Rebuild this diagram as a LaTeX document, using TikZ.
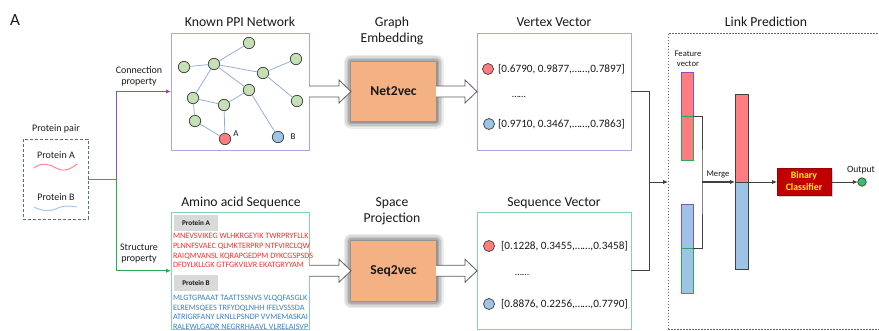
\documentclass[tikz,border=0pt]{standalone}
\usepackage{fontspec}
\setmainfont{Carlito}
\usetikzlibrary{arrows.meta,calc,shadows}

\definecolor{boxpurple}{RGB}{185,160,220}
\definecolor{boxgreen}{RGB}{130,215,165}
\definecolor{armpurple}{RGB}{140,80,190}
\definecolor{armgreen}{RGB}{40,170,80}
\definecolor{netgreen}{RGB}{197,224,180}
\definecolor{nodeedge}{RGB}{60,60,60}
\definecolor{edgeblue}{RGB}{143,170,220}
\definecolor{pinkred}{RGB}{255,124,128}
\definecolor{lightblue}{RGB}{157,195,230}
\definecolor{peach}{RGB}{244,177,131}
\definecolor{darkred}{RGB}{192,0,0}
\definecolor{seqred}{RGB}{255,45,45}
\definecolor{seqblue}{RGB}{50,130,205}
\definecolor{labelgray}{RGB}{217,217,217}
\definecolor{linegray}{RGB}{64,64,64}
\definecolor{pairblue}{RGB}{85,105,145}
\definecolor{outgreen}{RGB}{60,190,110}
\definecolor{txt}{RGB}{25,25,25}

\newcommand{\fatarrow}[2]{%
  \draw[hollow] ($(#1.east)+(0,-5.5)$) -- ($(#2.west)+(-12,-5.5)$)
    -- ($(#2.west)+(-12,-11.5)$) -- (#2.west) -- ($(#2.west)+(-12,11.5)$)
    -- ($(#2.west)+(-12,5.5)$) -- ($(#1.east)+(0,5.5)$);}

\begin{document}
\begin{tikzpicture}[x=1pt,y=-1pt,
  every node/.style={inner sep=0pt, outer sep=0pt, text=txt},
  ttl/.style={font=\fontsize{13.7}{16}\selectfont, anchor=base},
  lbl/.style={font=\fontsize{10}{12}\selectfont, anchor=base},
  tiny/.style={font=\fontsize{8.6}{10}\selectfont, anchor=base},
  pbox/.style={draw=boxpurple, line width=0.9pt, rectangle},
  gbox/.style={draw=boxgreen, line width=0.9pt, rectangle},
  net/.style={circle, draw=nodeedge, line width=0.7pt, fill=netgreen, minimum size=11.4pt},
  netedge/.style={draw=edgeblue, line width=0.75pt},
  dot/.style={circle, draw=nodeedge, line width=0.7pt, minimum size=11pt},
  conn/.style={draw=linegray, line width=0.9pt},
  tip/.style={-{Latex[length=5pt,width=4.5pt]}},
  hollow/.style={draw=linegray!85, fill=white, line width=0.8pt, line join=miter},
  glowbox/.style={rectangle, fill=peach,
    preaction={draw=black, opacity=0.07, line width=15pt, line join=round},
    preaction={draw=black, opacity=0.08, line width=12pt, line join=round},
    preaction={draw=black, opacity=0.10, line width=9pt, line join=round},
    preaction={draw=black, opacity=0.12, line width=6pt, line join=round},
    preaction={draw=black, opacity=0.14, line width=3pt, line join=round},
    font=\fontsize{13.6}{16}\bfseries\selectfont},
  seqtxt/.style={font=\fontsize{8.2}{9}\selectfont, anchor=base west},
  tag/.style={rectangle, fill=labelgray, minimum width=44pt, minimum height=16pt,
    font=\fontsize{7.2}{9}\bfseries\selectfont},
  vectxt/.style={font=\fontsize{11.2}{13}\selectfont, anchor=west},
  bar/.style={rectangle, minimum width=12pt, line width=0.9pt},
  mbar/.style={rectangle, minimum width=13pt, draw=linegray, line width=0.9pt}
]
\useasboundingbox (0,0) rectangle (879,330);

% panel letter
\node[font=\fontsize{17}{20}\selectfont, anchor=base west] (panel) at (10,25) {A};

% ---------- protein pair ----------
\node[lbl] (pairlbl) at (56,131) {Protein pair};
\node[rectangle, draw=pairblue, dash pattern=on 3pt off 2pt, line width=0.9pt,
      minimum width=65pt, minimum height=80pt] (pp) at (55.5,179) {};
\node[lbl] (pa) at (56,158) {Protein A};
\node[lbl] (pb) at (56,200) {Protein B};
\draw[pinkred, line width=0.9pt] (34,168) .. controls (42,162) and (50,164) .. (56,168)
  .. controls (62,172) and (70,170) .. (77,164);
\draw[lightblue, line width=0.9pt] (34,207) .. controls (42,211) and (50,212) .. (58,208)
  .. controls (64,205) and (70,206) .. (77,207);

% ---------- known PPI network ----------
\node[ttl] (ppittl) at (240,26) {Known PPI Network};
\node[pbox, minimum width=138pt, minimum height=117pt] (ppi) at (240,91.5) {};
\node[net] (n1) at (249,43) {};
\node[net] (n2) at (184,67) {};
\node[net] (n3) at (214,64) {};
\node[net] (n4) at (296,59) {};
\node[net] (n5) at (263,73) {};
\node[net] (n6) at (249,90) {};
\node[net] (n7) at (193,98) {};
\node[net] (n8) at (224,105) {};
\node[net] (n9) at (297,101) {};
\node[net] (n10) at (195,121) {};
\node[net, fill=pinkred] (na) at (225,139) {};
\node[net, fill=lightblue] (nb) at (278,137) {};
\foreach \u/\v in {n3/n1, n2/n3, n3/n5, n5/n4, n5/n9, n3/n6, n3/n7, n7/n8,
                   n8/n6, n6/nb, n8/na, n7/n10, n10/na}
  \draw[netedge] (\u) -- (\v);
\node[font=\fontsize{9}{10}\selectfont] (la) at (236,134) {A};
\node[font=\fontsize{9}{10}\selectfont] (lb) at (293,137) {B};

% ---------- amino acid sequence ----------
\node[ttl] (seqttl) at (241,206) {Amino acid Sequence};
\node[gbox, minimum width=138pt, minimum height=117.5pt] (seqbox) at (240,270.75) {};
\node[tag] (taga) at (196,223) {Protein A};
\node[tag] (tagb) at (196,283) {Protein B};
\foreach \t [count=\i] in {MNEVSVIKEG WLHKRGEYIK TWRPRYFLLK,
                           PLNNFSVAEC QLMKTERPRP NTFVIRCLQW,
                           RAIQMVANSL KQRAPGEDPM DYKCGSPSDS,
                           DFDYLKLLGK GTFGKVILVR EKATGRYYAM}
  \node[seqtxt, text=seqred] (sa\i) at (173,{238.7+9.7*(\i-1)}) {\t};
\foreach \t [count=\i] in {MLGTGPAAAT TAATTSSNVS VLQQFASGLK,
                           ELREMSQEES TRFYDQLNHH IFELVSSSDA,
                           ATRIGRFANY LRNLLPSNDP VVMEMASKAI,
                           RALEWLGADR NEGRRHAAVL VLRELAISVP}
  \node[seqtxt, text=seqblue] (sb\i) at (173,{300.4+9.6*(\i-1)}) {\t};

% ---------- inputs into the two branches ----------
\node[lbl] (cp1) at (139,73) {Connection};
\node[lbl] (cp2) at (139,84) {property};
\node[lbl] (sp1) at (139,250) {Structure};
\node[lbl] (sp2) at (139,261) {property};
\coordinate (split) at (116,179);
\draw[armgreen, line width=1pt] (pp.east) -- (split);
\draw[armgreen, line width=1pt, tip] (split) |- (seqbox.west);
\draw[armpurple, line width=1pt, tip] (split) |- (ppi.west);

% ---------- embedding / projection ----------
\node[ttl] (ge1) at (392,26) {Graph};
\node[ttl] (ge2) at (392,42.5) {Embedding};
\node[glowbox, minimum width=85pt, minimum height=59pt] (net2vec) at (393.5,91.5) {Net2vec};
\node[ttl] (sp3) at (392,206) {Space};
\node[ttl] (sp4) at (392,222.5) {Projection};
\node[glowbox, minimum width=85pt, minimum height=59.5pt] (seq2vec) at (393.5,270.75) {Seq2vec};

% ---------- vectors ----------
\node[ttl] (vvttl) at (554,26) {Vertex Vector};
\node[pbox, minimum width=154pt, minimum height=117pt] (vvec) at (554,91.5) {};
\node[dot, fill=pinkred] (va) at (488,69) {};
\node[vectxt] (vat) at (498,69) {[0.6790, 0.9877,……,0.7897]};
\node[lbl] (vdots) at (519,97) {……};
\node[dot, fill=lightblue] (vb) at (489,124) {};
\node[vectxt] (vbt) at (498,124) {[0.9710, 0.3467,……,0.7863]};

\node[ttl] (svttl) at (554,206) {Sequence Vector};
\node[gbox, minimum width=154pt, minimum height=117.5pt] (svec) at (554,270.75) {};
\node[dot, fill=pinkred] (sa) at (489,246) {};
\node[vectxt] (sat) at (501,246) {[0.1228, 0.3455,……,0.3458]};
\node[lbl] (sdots) at (522,275) {……};
\node[dot, fill=lightblue] (sbv) at (489,304) {};
\node[vectxt] (sbt) at (501,304) {[0.8876, 0.2256,……,0.7790]};

% hollow arrows
\fatarrow{ppi}{net2vec}
\fatarrow{net2vec}{vvec}
\fatarrow{seqbox}{seq2vec}
\fatarrow{seq2vec}{svec}

% ---------- link prediction ----------
\node[ttl] (lpttl) at (766,26) {Link Prediction};
\node[rectangle, draw=linegray!80, line width=0.6pt, dash pattern=on 1.6pt off 1.4pt,
      minimum width=213pt, minimum height=296.5pt] (lp) at (774.5,181.25) {};
\coordinate (join) at (649,182);
\draw[conn] (vvec.east) -| (join);
\draw[conn] (svec.east) -| (join);
\draw[conn, tip] (join) -- (join -| lp.west);

\node[tiny] (fv1) at (688,56) {Feature};
\node[tiny] (fv2) at (688,66) {vector};
\node[bar, fill=pinkred, draw=armpurple, minimum height=44pt] (fa1) at (687,94) {};
\node[bar, fill=pinkred, draw=armgreen, minimum height=44pt] (fa2) at (687,138) {};
\node[bar, fill=lightblue, draw=armpurple, minimum height=44pt] (fb1) at (687,226) {};
\node[bar, fill=lightblue, draw=armgreen, minimum height=45pt] (fb2) at (687,270.5) {};

\coordinate (mg) at (702,182);
\draw[conn] (fa1.south east) -| (mg) |- (fb1.south east);
\node[mbar, fill=pinkred, minimum height=88pt] (mr) at (741.5,138) {};
\node[mbar, fill=lightblue, minimum height=87pt] (mb) at (741.5,225.5) {};
\draw[conn, line width=1.5pt, tip] (mg) -- (mr.south west);
\node[tiny] (mlbl) at (718,176) {Merge};

\node[rectangle, fill=darkred, draw=darkred!80!black, line width=0.5pt,
      minimum width=54pt, minimum height=27pt,
      drop shadow={shadow xshift=1.8pt, shadow yshift=-1.8pt, opacity=0.35}] (bc) at (804,182) {};
\node[font=\fontsize{9.8}{12}\bfseries\selectfont, text=yellow, anchor=base] (bc1) at (804,178.5) {Binary};
\node[font=\fontsize{9.8}{12}\bfseries\selectfont, text=yellow, anchor=base] (bc2) at (804,190) {Classifier};
\draw[conn, tip] (mr.south east) -- (bc.west);
\node[circle, draw=nodeedge, line width=0.7pt, fill=outgreen, minimum size=8.5pt] (out) at (862,182) {};
\draw[conn, tip] (bc.east) -- (out);
\node[font=\fontsize{9.6}{11}\selectfont, anchor=base] (outlbl) at (861,172) {Output};
\end{tikzpicture}
\end{document}
